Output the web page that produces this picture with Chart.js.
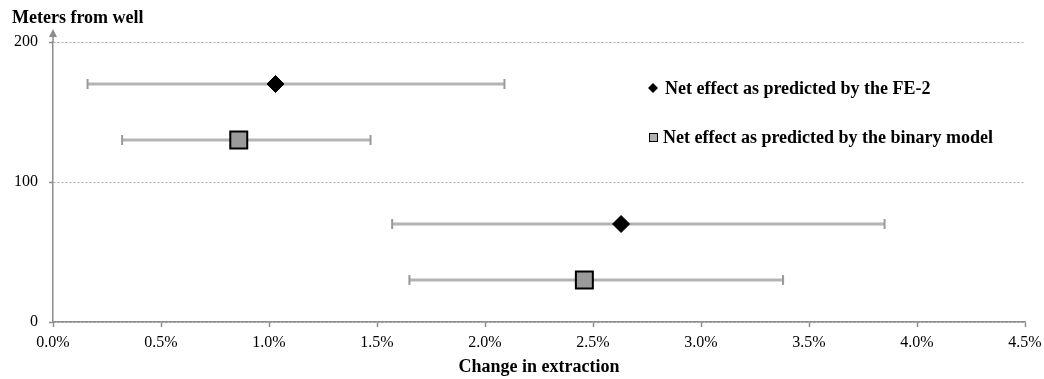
<!DOCTYPE html>
<html>
<head>
<meta charset="utf-8">
<script src="https://cdn.jsdelivr.net/npm/chart.js@4/dist/chart.umd.min.js"></script>
<style>
    html, body { margin: 0; padding: 0; background: #fff; }
    .graph { width: 1044px; height: 379px; position: relative; }
</style>
</head>
<body>
<div class="graph">
    <canvas id="myChart"></canvas>
</div>
<script>
// Valores (distância em metros, efeito em %)
const fe2Distance = [170, 70];
const fe2Effect = [1.03, 2.63];
const fe2Low = [0.16, 1.57];
const fe2High = [2.09, 3.85];

const binDistance = [130, 30];
const binEffect = [0.86, 2.46];
const binLow = [0.32, 1.65];
const binHigh = [1.47, 3.38];

const legendLabels = [
    'Net effect as predicted by the FE-2',
    'Net effect as predicted by the binary model'
];
const yTitle = 'Meters from well';
const xTitle = 'Change in extraction';

const serif = "'Liberation Serif', 'Times New Roman', serif";
const axisColor = '#8c8c8c';
const barColor = '#b4b4b4';

// Barras de erro: uma série de dois pontos por linha
function errorBar(low, high, y) {
    return {
        data: [{ x: low, y: y }, { x: high, y: y }],
        showLine: true,
        borderColor: barColor,
        borderWidth: 3,
        pointStyle: 'line',
        rotation: 90,
        pointRadius: 5,
        pointBorderWidth: 2,
        pointBorderColor: '#9a9a9a',
        order: 5
    };
}

const datasets = [
    {
        label: legendLabels[0],
        data: fe2Effect.map((v, i) => ({ x: v, y: fe2Distance[i] })),
        pointStyle: 'rectRot',
        pointRadius: 8.5,
        backgroundColor: '#000',
        borderColor: '#000',
        borderWidth: 1,
        order: 1
    },
    {
        label: legendLabels[1],
        data: binEffect.map((v, i) => ({ x: v, y: binDistance[i] })),
        pointStyle: 'rect',
        pointRadius: 12,
        backgroundColor: '#9a9a9a',
        borderColor: '#000',
        borderWidth: 2,
        order: 1
    }
];
fe2Low.forEach((v, i) => datasets.push(errorBar(v, fe2High[i], fe2Distance[i])));
binLow.forEach((v, i) => datasets.push(errorBar(v, binHigh[i], binDistance[i])));

// Título do eixo Y, seta e legenda desenhados à mão
const extras = {
    id: 'extras',
    afterDraw(chart) {
        const ctx = chart.ctx;
        const area = chart.chartArea;
        ctx.save();

        // seta no topo do eixo Y
        ctx.strokeStyle = axisColor;
        ctx.fillStyle = axisColor;
        ctx.lineWidth = 1.5;
        ctx.beginPath();
        ctx.moveTo(area.left, area.top);
        ctx.lineTo(area.left, area.top - 7);
        ctx.stroke();
        ctx.beginPath();
        ctx.moveTo(area.left, area.top - 13);
        ctx.lineTo(area.left - 4, area.top - 5);
        ctx.lineTo(area.left + 4, area.top - 5);
        ctx.closePath();
        ctx.fill();

        ctx.fillStyle = '#000';
        ctx.font = 'bold 18px ' + serif;
        ctx.textAlign = 'left';
        ctx.textBaseline = 'alphabetic';
        ctx.fillText(yTitle, 12, 23);

        // legenda
        ctx.textBaseline = 'middle';
        ctx.beginPath();
        ctx.moveTo(653, 83);
        ctx.lineTo(658, 88);
        ctx.lineTo(653, 93);
        ctx.lineTo(648, 88);
        ctx.closePath();
        ctx.fill();
        ctx.fillText(legendLabels[0], 665, 89);

        ctx.fillStyle = '#b0b0b0';
        ctx.fillRect(649, 133, 8, 8);
        ctx.strokeStyle = '#000';
        ctx.lineWidth = 1;
        ctx.strokeRect(649.5, 133.5, 8, 8);
        ctx.fillStyle = '#000';
        ctx.fillText(legendLabels[1], 663, 138);

        ctx.restore();
    }
};

const ctx = document.getElementById('myChart').getContext('2d');
const graph = new Chart(ctx, {
    type: 'scatter',
    data: { datasets: datasets },
    options: {
        responsive: true,
        maintainAspectRatio: false,
        animation: false,
        layout: {
            padding: { top: 42, right: 19, bottom: 0, left: 0 }
        },
        plugins: {
            legend: { display: false },
            tooltip: { enabled: false }
        },
        scales: {
            x: {
                type: 'linear',
                min: 0,
                max: 4.5,
                afterFit: (scale) => {
                    scale.height = 57;
                    scale.paddingLeft = 0;
                    scale.paddingRight = 0;
                },
                border: { color: axisColor, width: 1.5 },
                grid: {
                    drawOnChartArea: false,
                    drawTicks: true,
                    tickLength: 5,
                    tickColor: axisColor,
                    tickWidth: 1.5
                },
                ticks: {
                    stepSize: 0.5,
                    padding: 6,
                    color: '#000',
                    font: { family: serif, size: 16 },
                    maxRotation: 0,
                    callback: (value) => value.toFixed(1) + '%'
                },
                title: {
                    display: true,
                    text: xTitle,
                    color: '#000',
                    font: { family: serif, size: 18, weight: 'bold' },
                    padding: { top: 0, bottom: 1 }
                }
            },
            y: {
                type: 'linear',
                min: 0,
                max: 200,
                afterFit: (scale) => { scale.width = 53; },
                border: { color: axisColor, width: 1.5, dash: [2, 2] },
                grid: {
                    color: '#a6a6a6',
                    lineWidth: 1,
                    tickBorderDash: [],
                    tickLength: 4,
                    tickColor: axisColor,
                    tickWidth: 1.5
                },
                ticks: {
                    stepSize: 100,
                    padding: 11,
                    color: '#000',
                    font: { family: serif, size: 16 }
                }
            }
        }
    },
    plugins: [extras]
});
</script>
</body>
</html>
